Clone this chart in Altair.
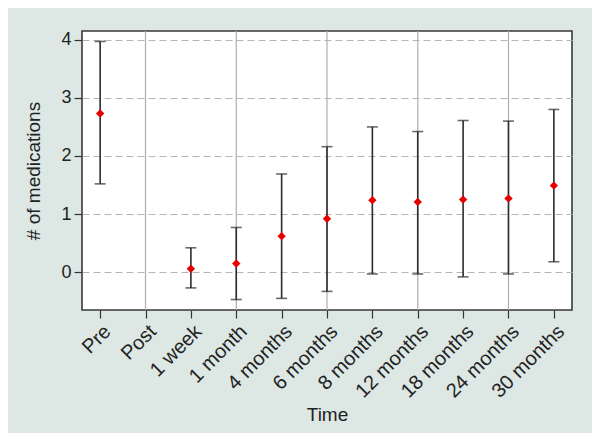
import altair as alt
import pandas as pd

# ---- data ----
categories = ["Pre", "Post", "1 week", "1 month", "4 months", "6 months",
              "8 months", "12 months", "18 months", "24 months", "30 months"]
data_categories = ["Pre", "1 week", "1 month", "4 months", "6 months",
                   "8 months", "12 months", "18 months", "24 months", "30 months"]
means = [2.73, 0.06, 0.15, 0.62, 0.92, 1.24, 1.21, 1.25, 1.27, 1.49]
lower = [1.52, -0.27, -0.47, -0.45, -0.33, -0.03, -0.03, -0.08, -0.03, 0.18]
upper = [3.97, 0.42, 0.77, 1.69, 2.16, 2.50, 2.42, 2.61, 2.60, 2.80]
grid_categories = ["Post", "1 month", "6 months", "12 months", "24 months"]
y_ticks = [0, 1, 2, 3, 4]

df = pd.DataFrame({"time": data_categories, "mean": means,
                   "lower": lower, "upper": upper})
grid_df = pd.DataFrame({"time": grid_categories})

FONT = "Liberation Sans"

x_enc = alt.X(
    "time:N",
    sort=categories,
    scale=alt.Scale(type="point", domain=categories, padding=0.4),
    axis=alt.Axis(
        title="Time", labelAngle=-45, labelAlign="right", labelBaseline="top",
        labelFontSize=20, titleFontSize=19, labelColor="#222", titleColor="#222",
        labelFont=FONT, titleFont=FONT, domain=False, grid=False,
        tickSize=8, tickColor="#333", tickWidth=1.2, labelPadding=3,
        titlePadding=4, titleFontWeight="normal",
    ),
)

y_scale = alt.Scale(domain=[-0.65, 4.15], nice=False, zero=False)
y_axis = alt.Axis(
    title="# of medications", values=y_ticks, format="d",
    labelFontSize=18, titleFontSize=19, labelColor="#222", titleColor="#222",
    labelFont=FONT, titleFont=FONT, domain=False,
    grid=True, gridDash=[7, 4], gridColor="#b5b5b5", gridWidth=1.2,
    tickSize=8, tickColor="#333", tickWidth=1.2, labelPadding=3,
    titlePadding=17, titleFontWeight="normal",
)

grid = alt.Chart(grid_df).mark_rule(color="#adadad", strokeWidth=1.2).encode(x=x_enc)

bars = alt.Chart(df).mark_rule(color="#2b2b2b", strokeWidth=1.6).encode(
    x=x_enc,
    y=alt.Y("lower:Q", scale=y_scale, axis=y_axis),
    y2="upper:Q",
)

cap_lo = alt.Chart(df).mark_tick(color="#2b2b2b", thickness=1.6, size=11).encode(
    x=x_enc, y=alt.Y("lower:Q", scale=y_scale, axis=y_axis),
)
cap_hi = alt.Chart(df).mark_tick(color="#2b2b2b", thickness=1.6, size=11).encode(
    x=x_enc, y=alt.Y("upper:Q", scale=y_scale, axis=y_axis),
)

points = alt.Chart(df).mark_point(
    shape="diamond", filled=True, color="#e60000", size=70, opacity=1
).encode(
    x=x_enc, y=alt.Y("mean:Q", scale=y_scale, axis=y_axis),
)

chart = alt.layer(grid, bars, cap_lo, cap_hi, points).properties(
    width=490,
    height=279,
    autosize=alt.AutoSizeParams(type="none"),
    padding={"left": 74, "top": 23, "right": 20, "bottom": 123},
    background="#dde7e4",
).configure_view(
    fill="white", stroke="#3a3a3a", strokeWidth=1.6
)

chart.save("out.html", embed_options={"renderer": "svg", "actions": False})
